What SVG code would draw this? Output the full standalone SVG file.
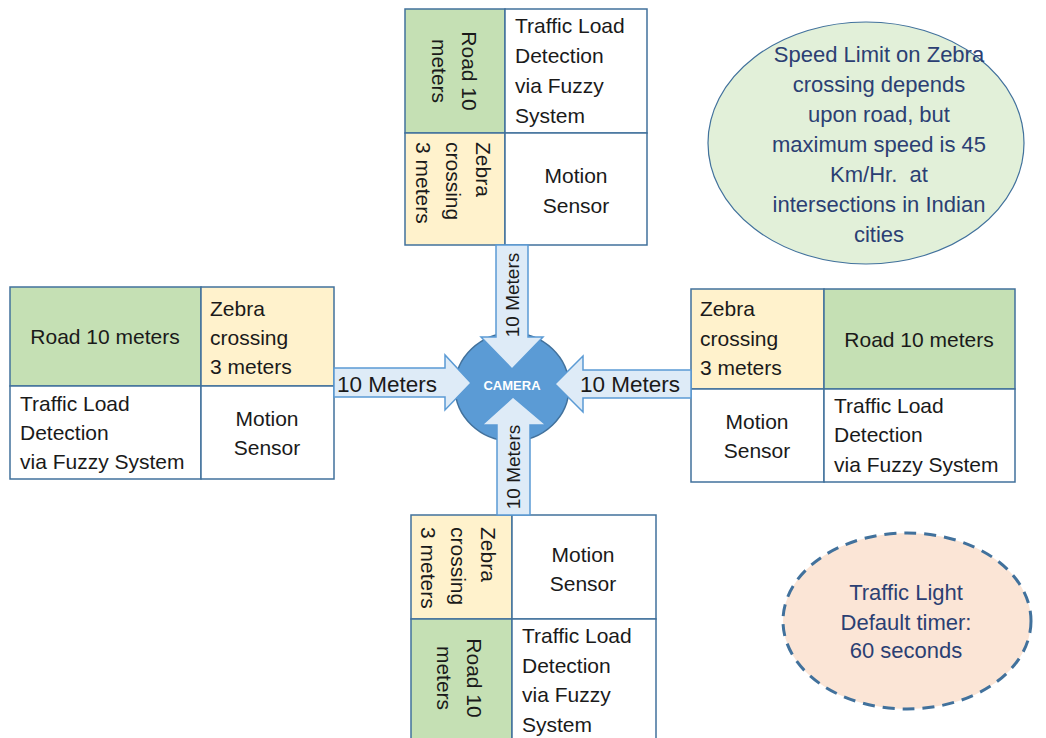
<svg xmlns="http://www.w3.org/2000/svg" width="1046" height="738" viewBox="0 0 1046 738">
  <style>
    .cell { stroke: #41719C; stroke-width: 1.5; }
    .road { fill: #C5E0B4; }
    .zebra { fill: #FFF2CC; }
    .plain { fill: #FFFFFF; }
    .t { font-family: "Liberation Sans", Arial, sans-serif; font-size: 21px; fill: #1A1A1A; }
    .mid { text-anchor: middle; }
    .arrow { fill: #DEEBF7; stroke: #5B9BD5; stroke-width: 1.5; stroke-linejoin: miter; }
    .at { font-family: "Liberation Sans", Arial, sans-serif; fill: #1A1A1A; }
    .note { font-family: "Liberation Sans", Arial, sans-serif; font-size: 22px; fill: #2B3F73; text-anchor: middle; }
  </style>

  <!-- top approach -->
  <g id="block-north">
    <rect class="cell road" x="405" y="9" width="100" height="124"/>
    <rect class="cell plain" x="505" y="9" width="142" height="124"/>
    <rect class="cell zebra" x="405" y="133" width="100" height="112"/>
    <rect class="cell plain" x="505" y="133" width="142" height="112"/>
    <text class="t mid" transform="translate(462,71) rotate(90)"><tspan x="0" y="0">Road 10</tspan><tspan x="0" y="30">meters</tspan></text>
    <text class="t" transform="translate(476,142) rotate(90)"><tspan x="0" y="0">Zebra</tspan><tspan x="0" y="30">crossing</tspan><tspan x="0" y="60">3 meters</tspan></text>
    <text class="t"><tspan x="515" y="33">Traffic Load</tspan><tspan x="515" y="63">Detection</tspan><tspan x="515" y="93">via Fuzzy</tspan><tspan x="515" y="123">System</tspan></text>
    <text class="t mid"><tspan x="576" y="183">Motion</tspan><tspan x="576" y="213">Sensor</tspan></text>
  </g>

  <!-- left approach -->
  <g id="block-west">
    <rect class="cell road" x="10" y="287" width="191" height="99"/>
    <rect class="cell zebra" x="201" y="287" width="133" height="99"/>
    <rect class="cell plain" x="10" y="386" width="191" height="93"/>
    <rect class="cell plain" x="201" y="386" width="133" height="93"/>
    <text class="t mid" x="105" y="344">Road 10 meters</text>
    <text class="t"><tspan x="210" y="316">Zebra</tspan><tspan x="210" y="345">crossing</tspan><tspan x="210" y="374">3 meters</tspan></text>
    <text class="t"><tspan x="20" y="411">Traffic Load</tspan><tspan x="20" y="440">Detection</tspan><tspan x="20" y="469">via Fuzzy System</tspan></text>
    <text class="t mid"><tspan x="267" y="426">Motion</tspan><tspan x="267" y="455">Sensor</tspan></text>
  </g>

  <!-- right approach -->
  <g id="block-east">
    <rect class="cell zebra" x="691" y="289" width="133" height="100"/>
    <rect class="cell road" x="824" y="289" width="191" height="100"/>
    <rect class="cell plain" x="691" y="389" width="133" height="93"/>
    <rect class="cell plain" x="824" y="389" width="191" height="93"/>
    <text class="t"><tspan x="700" y="316">Zebra</tspan><tspan x="700" y="346">crossing</tspan><tspan x="700" y="375">3 meters</tspan></text>
    <text class="t mid" x="919" y="347">Road 10 meters</text>
    <text class="t mid"><tspan x="757" y="429">Motion</tspan><tspan x="757" y="458">Sensor</tspan></text>
    <text class="t"><tspan x="834" y="413">Traffic Load</tspan><tspan x="834" y="442">Detection</tspan><tspan x="834" y="472">via Fuzzy System</tspan></text>
  </g>

  <!-- bottom approach -->
  <g id="block-south">
    <rect class="cell zebra" x="411" y="515" width="101" height="104"/>
    <rect class="cell plain" x="512" y="515" width="144" height="104"/>
    <rect class="cell road" x="411" y="619" width="101" height="125"/>
    <rect class="cell plain" x="512" y="619" width="144" height="125"/>
    <text class="t" transform="translate(481,527) rotate(90)"><tspan x="0" y="0">Zebra</tspan><tspan x="0" y="30">crossing</tspan><tspan x="0" y="60">3 meters</tspan></text>
    <text class="t mid" transform="translate(467,678) rotate(90)"><tspan x="0" y="0">Road 10</tspan><tspan x="0" y="30">meters</tspan></text>
    <text class="t mid"><tspan x="583" y="562">Motion</tspan><tspan x="583" y="591">Sensor</tspan></text>
    <text class="t"><tspan x="522" y="643">Traffic Load</tspan><tspan x="522" y="673">Detection</tspan><tspan x="522" y="702">via Fuzzy</tspan><tspan x="522" y="732">System</tspan></text>
  </g>

  <!-- camera at the junction -->
  <g id="camera">
    <ellipse cx="512" cy="387" rx="57" ry="54" fill="#5B9BD5" stroke="#41719C" stroke-width="1.5"/>
  </g>

  <!-- block arrows into the junction -->
  <g id="connectors">
    <polygon class="arrow" points="334,368 445,368 445,355 471,383 445,410 445,397 334,397"/>
    <polygon class="arrow" points="691,370 583,370 583,356 555,384 583,412 583,398 691,398"/>
    <polygon class="arrow" points="496,245 528,245 528,337 543,337 512,369 481,337 496,337"/>
    <polygon class="arrow" points="497,515 530,515 530,425 546,425 513,397 482,425 497,425"/>
    <text class="at" x="337" y="392" font-size="22.5">10 Meters</text>
    <text class="at" x="580" y="392" font-size="22.5">10 Meters</text>
    <text class="at mid" font-size="19" transform="translate(519,295) rotate(-90)">10 Meters</text>
    <text class="at mid" font-size="19" transform="translate(520,467) rotate(-90)">10 Meters</text>
  </g>

  <g id="camera-label">
    <text x="512" y="390" font-family="Liberation Sans, Arial, sans-serif" font-size="13" font-weight="bold" fill="#FFFFFF" text-anchor="middle">CAMERA</text>
  </g>

  <!-- speed limit note -->
  <g id="note-speed">
    <ellipse cx="866" cy="143" rx="158" ry="121" fill="#E2F0D9" stroke="#41719C" stroke-width="1.2"/>
    <text class="note"><tspan x="879" y="62">Speed Limit on Zebra</tspan><tspan x="879" y="92">crossing depends</tspan><tspan x="879" y="122">upon road, but</tspan><tspan x="879" y="152">maximum speed is 45</tspan><tspan x="879" y="182" xml:space="preserve">Km/Hr.  at</tspan><tspan x="879" y="212">intersections in Indian</tspan><tspan x="879" y="242">cities</tspan></text>
  </g>

  <!-- traffic light note -->
  <g id="note-timer">
    <ellipse cx="907" cy="621" rx="124" ry="88" fill="#FBE5D6" stroke="#41719C" stroke-width="3" stroke-dasharray="12 8"/>
    <text class="note"><tspan x="906" y="600">Traffic Light</tspan><tspan x="906" y="630">Default timer:</tspan><tspan x="906" y="658">60 seconds</tspan></text>
  </g>
</svg>
